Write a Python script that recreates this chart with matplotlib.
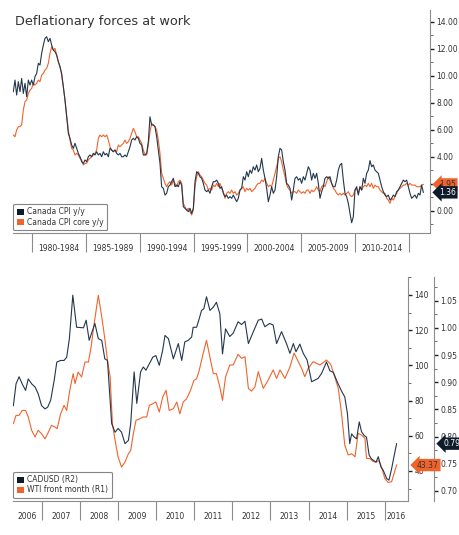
import matplotlib
matplotlib.use('Agg')
import matplotlib.pyplot as plt
import numpy as np
from matplotlib.patches import Patch
from matplotlib.transforms import blended_transform_factory
from matplotlib.ticker import MultipleLocator, FixedLocator, FuncFormatter, NullFormatter

plt.rcParams['font.family'] = ['DejaVu Sans']

# ---- top panel: Canada CPI (readings spaced evenly between first and last date) ----
cpi_start, cpi_end = 1978.27, 2016.33
cpi_yy = [
    8.82, 9.68, 8.57, 9.56, 8.82, 9.80, 8.69, 9.44, 8.45, 9.68,
    9.31, 9.68, 9.31, 9.93, 10.17, 10.92, 10.79, 11.66, 12.27, 12.77,
    12.89, 12.52, 12.77, 12.27, 11.90, 11.78, 11.53, 11.04, 10.67, 10.17,
    9.19, 8.20, 6.96, 5.73, 5.36, 4.87, 4.62, 4.99, 4.62, 4.25,
    4.00, 3.63, 3.51, 3.76, 3.63, 4.00, 4.13, 4.00, 4.25, 4.13,
    4.37, 4.13, 4.25, 4.00, 4.37, 4.13, 4.25, 4.00, 4.62, 4.50,
    4.37,
    4.50, 4.25, 4.13, 4.25, 4.00, 4.00, 4.13, 4.00, 4.37, 4.74,
    5.24, 5.36, 5.24, 5.48, 5.36, 4.99, 4.87, 4.13, 4.13, 4.25,
    5.11, 6.96, 6.35, 6.35, 6.23, 5.48, 4.50, 3.51, 1.78, 1.66,
    1.16, 1.29, 1.78, 1.90, 2.15, 2.40, 1.78, 1.90, 1.78, 2.15,
    1.90, 0.30, 0.18, 0.05, -0.07, 0.18, -0.20, 0.18, 2.15, 2.89,
    2.77, 2.52, 2.40, 2.03, 1.53, 1.41, 1.53, 1.29, 1.78, 2.15,
    2.15, 2.27, 2.03, 1.66, 1.78, 1.29, 1.04, 1.16, 0.92, 1.04,
    0.92, 1.16, 0.92, 0.67, 0.92, 1.53, 1.66, 2.52, 2.27, 2.89,
    2.52, 3.01, 2.77, 3.26, 3.01, 3.39, 2.89, 3.14, 3.88, 3.01,
    2.40, 1.66, 0.67, 1.16, 1.78, 1.29, 1.53, 2.52, 4.00, 4.62,
    4.50, 3.63, 3.01, 2.03, 1.90, 1.66, 0.79, 1.53, 2.40, 2.52,
    2.27, 2.40, 2.03, 2.52, 2.27, 2.77, 3.26, 3.01, 2.27, 2.77,
    2.40, 2.77, 2.03, 0.92, 1.41, 1.78, 2.40, 2.52, 2.40, 2.52,
    2.03, 1.78, 1.78, 2.27, 3.01, 3.39, 3.51, 2.27, 1.29, 1.04,
    0.55, -0.20, -0.89, -0.44, 1.53, 1.78, 1.16, 1.78, 1.53, 2.40,
    2.03, 2.77, 3.01, 3.71, 3.26, 3.39, 3.01, 2.89, 2.77, 2.27,
    1.78, 1.41, 1.16, 1.04, 1.16, 0.79, 0.92, 1.16, 1.04, 1.41,
    1.53, 1.78, 2.03, 2.27, 2.15, 2.27, 1.78, 1.29, 0.92, 1.04,
    1.16, 0.92, 1.29, 1.16, 1.90, 1.36,
]
cpi_core = [
    5.61, 5.48, 5.98, 6.23, 6.23, 6.35, 7.46, 8.08, 8.20, 8.69,
    8.94, 9.06, 9.44, 9.31, 9.44, 9.68, 9.56, 10.05, 10.17, 10.42,
    10.55, 10.92, 11.66, 12.15, 11.90, 12.03, 11.53, 11.04, 10.67, 10.05,
    9.19, 8.20, 7.09, 5.98, 5.24, 4.62, 4.50, 4.13, 4.25, 4.13,
    3.88, 3.76, 3.39, 3.51, 3.51, 3.76, 3.88, 4.00, 4.13, 4.25,
    4.50, 5.36, 5.61, 5.48, 5.61, 5.48, 5.61, 5.24, 4.74, 4.50,
    4.37,
    4.50, 4.37, 4.87, 4.74, 4.87, 4.99, 5.24, 4.99, 5.11, 5.36,
    5.73, 6.10, 5.85, 5.48, 5.48, 5.24, 4.99, 4.50, 4.13, 4.13,
    4.87, 5.85, 6.47, 6.35, 6.23, 5.98, 5.24, 4.25, 2.77, 2.40,
    2.03, 1.78, 2.03, 2.15, 1.90, 2.27, 2.03, 1.78, 2.15, 2.27,
    2.03, 0.55, 0.30, 0.05, 0.18, -0.07, -0.32, 0.05, 1.78, 2.52,
    2.89, 2.64, 2.52, 2.27, 2.03, 1.90, 1.53, 1.66, 1.53, 1.90,
    1.78, 2.03, 1.78, 2.03, 1.66, 1.41, 0.92, 1.29, 1.41, 1.29,
    1.53, 1.29, 1.41, 1.16, 1.29, 1.53, 1.66, 1.78, 1.41, 1.66,
    1.53, 1.66, 1.41, 1.53, 1.66, 1.90, 2.03, 2.03, 2.27, 2.15,
    2.40, 2.03, 1.78, 1.90, 1.78, 2.27, 2.77, 3.26, 3.88, 4.00,
    3.63, 3.01, 2.52, 1.90, 1.66, 1.53, 1.29, 1.41, 1.41, 1.29,
    1.53, 1.41, 1.29, 1.41, 1.29, 1.53, 1.53, 1.29, 1.53, 1.41,
    1.53, 1.78, 1.53, 1.41, 1.78, 1.90, 1.78, 2.15, 2.52, 2.27,
    2.03, 1.66, 1.53, 1.29, 1.16, 1.29, 1.16, 1.29, 1.16, 1.29,
    1.41, 1.16, 1.04, 1.16, 1.53, 1.66, 1.29, 1.78, 1.53, 1.78,
    1.90, 1.78, 2.03, 1.78, 2.03, 1.66, 1.90, 1.78, 1.78, 1.53,
    1.41, 1.29, 1.29, 0.92, 0.79, 0.55, 0.92, 0.79, 1.04, 1.29,
    1.53, 1.66, 1.78, 1.90, 1.90, 2.03, 1.90, 2.03, 1.90, 1.90,
    1.90, 1.78, 1.78, 1.78, 1.90, 1.95,
]
cpi_names = ['Canada CPI y/y', 'Canada CPI core y/y']
period_edges = [1980, 1985, 1990, 1995, 2000, 2005, 2010, 2015]
period_labels = ['1980-1984', '1985-1989', '1990-1994', '1995-1999',
                 '2000-2004', '2005-2009', '2010-2014']

# ---- bottom panel: CADUSD vs WTI ----
cad_dates = [
    2006.25, 2006.32, 2006.40, 2006.48, 2006.57, 2006.64, 2006.73, 2006.82, 2006.90, 2006.99,
    2007.08, 2007.15, 2007.23, 2007.32, 2007.39, 2007.49, 2007.58, 2007.65, 2007.72, 2007.81,
    2007.91, 2008.09, 2008.16, 2008.24, 2008.39, 2008.48, 2008.57, 2008.65, 2008.72, 2008.83,
    2008.92, 2009.00, 2009.09, 2009.18, 2009.27, 2009.33, 2009.42, 2009.49, 2009.59, 2009.66,
    2009.73, 2009.82, 2009.91, 2009.99, 2010.08, 2010.17, 2010.23, 2010.32, 2010.45, 2010.58,
    2010.67, 2010.75, 2010.84, 2010.93, 2010.97, 2011.06, 2011.13, 2011.19, 2011.25, 2011.32,
    2011.41, 2011.50, 2011.58, 2011.67, 2011.74, 2011.82, 2011.93, 2012.02, 2012.15, 2012.24,
    2012.33, 2012.42, 2012.55, 2012.68, 2012.77, 2012.85, 2012.98, 2013.07, 2013.16, 2013.29,
    2013.42, 2013.51, 2013.60, 2013.67, 2013.77, 2013.86, 2013.96, 2014.08, 2014.17, 2014.25,
    2014.34, 2014.47, 2014.56, 2014.65, 2014.75, 2014.87, 2014.95, 2015.02, 2015.08, 2015.13,
    2015.20, 2015.26, 2015.33, 2015.39, 2015.46, 2015.52, 2015.59, 2015.65, 2015.71, 2015.77,
    2015.83, 2015.90, 2015.96, 2016.05, 2016.11, 2016.18, 2016.25, 2016.31,
]
cad_values = [
    0.857, 0.897, 0.910, 0.897, 0.885, 0.906, 0.897, 0.891, 0.879, 0.857,
    0.851, 0.854, 0.867, 0.903, 0.937, 0.940, 0.940, 0.946, 0.980, 1.060,
    1.001, 1.000, 1.014, 0.977, 1.008, 0.980, 0.977, 0.943, 0.940, 0.824,
    0.808, 0.815, 0.808, 0.787, 0.793, 0.824, 0.919, 0.861, 0.919, 0.928,
    0.922, 0.934, 0.946, 0.949, 0.931, 0.959, 0.986, 0.980, 0.943, 0.971,
    0.940, 0.974, 0.977, 0.983, 1.001, 1.001, 1.017, 1.032, 1.035, 1.057,
    1.032, 1.038, 1.047, 1.026, 0.952, 0.998, 0.984, 0.990, 1.011, 1.006,
    1.012, 0.971, 0.993, 1.014, 1.016, 1.002, 1.008, 1.005, 0.971, 0.993,
    0.971, 0.953, 0.971, 0.956, 0.970, 0.953, 0.941, 0.901, 0.904, 0.907,
    0.916, 0.937, 0.921, 0.918, 0.901, 0.883, 0.873, 0.842, 0.787, 0.805,
    0.799, 0.796, 0.827, 0.809, 0.802, 0.799, 0.766, 0.759, 0.756, 0.753,
    0.763, 0.744, 0.738, 0.723, 0.720, 0.741, 0.766, 0.787,
]
wti_dates = [
    2006.25, 2006.32, 2006.40, 2006.48, 2006.57, 2006.64, 2006.73, 2006.82, 2006.90, 2006.99,
    2007.08, 2007.17, 2007.25, 2007.34, 2007.40, 2007.49, 2007.58, 2007.65, 2007.73, 2007.82,
    2007.87, 2007.95, 2008.04, 2008.13, 2008.22, 2008.29, 2008.37, 2008.48, 2008.57, 2008.65,
    2008.72, 2008.79, 2008.85, 2008.92, 2009.00, 2009.09, 2009.18, 2009.27, 2009.33, 2009.40,
    2009.47, 2009.57, 2009.66, 2009.75, 2009.82, 2009.91, 2009.99, 2010.08, 2010.17, 2010.26,
    2010.34, 2010.45, 2010.54, 2010.62, 2010.71, 2010.80, 2010.90, 2010.99, 2011.06, 2011.13,
    2011.23, 2011.32, 2011.41, 2011.50, 2011.58, 2011.67, 2011.74, 2011.82, 2011.93, 2012.02,
    2012.15, 2012.24, 2012.33, 2012.42, 2012.50, 2012.59, 2012.68, 2012.81, 2012.94, 2013.07,
    2013.16, 2013.25, 2013.38, 2013.51, 2013.62, 2013.73, 2013.82, 2013.90, 2013.99, 2014.12,
    2014.30, 2014.47, 2014.58, 2014.66, 2014.78, 2014.87, 2014.95, 2015.04, 2015.13, 2015.22,
    2015.30, 2015.39, 2015.48, 2015.52, 2015.61, 2015.70, 2015.78, 2015.85, 2015.92, 2016.00,
    2016.09, 2016.18, 2016.31,
]
wti_values = [
    66.9, 71.6, 71.6, 74.4, 74.4, 70.7, 63.1, 59.3, 63.1, 61.2,
    58.3, 62.1, 65.9, 65.0, 64.0, 72.5, 77.3, 74.4, 85.8, 95.3,
    89.6, 96.2, 93.4, 101.9, 101.9, 110.4, 123.7, 139.8, 127.5, 115.2,
    102.9, 93.4, 66.9, 57.4, 47.9, 42.2, 45.1, 49.8, 51.7, 61.2,
    68.8, 69.7, 70.7, 70.7, 77.3, 78.2, 79.2, 73.5, 82.0, 85.8,
    74.4, 75.4, 79.2, 72.5, 79.2, 81.1, 85.8, 91.5, 92.4, 97.2,
    106.6, 114.2, 104.7, 95.3, 95.3, 87.7, 80.1, 93.4, 100.2, 100.2,
    106.3, 104.0, 104.9, 86.9, 85.4, 87.7, 96.4, 86.9, 91.7, 97.4,
    92.6, 97.4, 92.6, 99.1, 107.0, 102.1, 98.1, 93.6, 98.3, 102.1,
    100.2, 103.0, 100.6, 95.3, 86.9, 71.8, 54.7, 49.1, 49.8, 48.1,
    61.4, 60.4, 58.5, 47.2, 47.0, 45.3, 45.1, 46.0, 41.9, 35.8,
    33.5, 33.9, 43.37,
]
fx_names = ['CADUSD (R2)', 'WTI front month (R1)']
years = list(range(2006, 2017))

dark = '#22374e'
dark_sq = '#0d1b2a'
orange = '#f0642c'
spine_c = '#8c8c8c'
text_c = '#333333'
small = 5.5


def tag(ax, xpos, y, text, fc, tc, ytrans=None):
    # left-pointing value tag sitting on a right-hand axis
    trans = blended_transform_factory(ax.transAxes, (ytrans or ax).transData)
    ax.annotate(text, xy=(xpos, y), xycoords=trans,
                xytext=(6.5, 0), textcoords='offset points', ha='left', va='center',
                fontsize=small, color=tc, annotation_clip=False, zorder=6,
                bbox=dict(boxstyle='larrow,pad=0.22', fc=fc, ec='none'))


def style_xaxis(ax, edges, labels, mids):
    ax.xaxis.set_major_locator(FixedLocator(edges))
    ax.xaxis.set_major_formatter(NullFormatter())
    ax.set_xticks(mids, minor=True)
    ax.set_xticklabels(labels, minor=True)
    ax.tick_params(axis='x', which='major', length=14, width=0.8, color=spine_c, direction='out')
    ax.tick_params(axis='x', which='minor', length=0, pad=8, labelsize=small, labelcolor=text_c)


fig = plt.figure(figsize=(4.6, 5.35), dpi=100)

# ---------------- top ----------------
ax1 = fig.add_axes([13 / 460, 1 - 233 / 535, 417 / 460, 223 / 535])
t_yy = np.linspace(cpi_start, cpi_end, len(cpi_yy))
t_core = np.linspace(cpi_start, cpi_end, len(cpi_core))
ax1.plot(t_core, cpi_core, color=orange, lw=0.8)
ax1.plot(t_yy, cpi_yy, color=dark, lw=0.8)
ax1.set_xlim(1978.24, 2016.95)
ax1.set_ylim(-1.65, 14.87)

style_xaxis(ax1, period_edges, period_labels, [e + 2.5 for e in period_edges[:-1]])

ax1.yaxis.tick_right()
ax1.yaxis.set_major_locator(MultipleLocator(2))
ax1.yaxis.set_minor_locator(MultipleLocator(1))
ax1.yaxis.set_major_formatter(FuncFormatter(lambda v, p: f'{v:.2f}'))
ax1.tick_params(axis='y', which='major', length=3, width=1.0, pad=1.5,
                labelsize=small, labelcolor=text_c, color='#222222')
ax1.tick_params(axis='y', which='minor', length=2, width=0.6, color='#555555')

for s in ['left', 'top']:
    ax1.spines[s].set_visible(False)
for s in ['right', 'bottom']:
    ax1.spines[s].set_color(spine_c)
    ax1.spines[s].set_linewidth(0.8)

leg = ax1.legend([Patch(facecolor=dark_sq), Patch(facecolor=orange)], cpi_names,
                 loc='lower left', bbox_to_anchor=(0, 0.012), borderaxespad=0,
                 fontsize=small, handlelength=0.9, handleheight=0.9, handletextpad=0.4,
                 borderpad=0.5, labelspacing=0.15, fancybox=True)
leg.get_frame().set_edgecolor('#666666')
leg.get_frame().set_linewidth(0.8)
for txt in leg.get_texts():
    txt.set_color(text_c)

tag(ax1, 1.0, cpi_core[-1], f'{cpi_core[-1]:.2f}', orange, text_c)
tag(ax1, 1.0, cpi_yy[-1], f'{cpi_yy[-1]:.2f}', dark_sq, 'white')

fig.text(15 / 460, 1 - 25 / 535, 'Deflationary forces at work', fontsize=9.3,
         color=text_c, va='baseline', ha='left')

# ---------------- bottom ----------------
ax2 = fig.add_axes([13 / 460, 1 - 501 / 535, 395 / 460, 224 / 535])
ax2.plot(wti_dates, wti_values, color=orange, lw=0.8)
ax2.set_xlim(2006.24, 2016.61)
ax2.set_ylim(22.95, 150.2)

ax3 = ax2.twinx()
ax3.plot(cad_dates, cad_values, color=dark, lw=0.8)
ax3.set_ylim(0.6816, 1.0934)
ax3.spines['right'].set_position(('axes', 1 + 26 / 395))

ax2.yaxis.tick_right()
lo, hi = ax2.get_xlim()
year_mids = [(max(y, lo) + min(y + 1, hi)) / 2 for y in years]
style_xaxis(ax2, years[1:], [str(y) for y in years], year_mids)

ax2.yaxis.set_major_locator(MultipleLocator(20))
ax2.yaxis.set_minor_locator(MultipleLocator(10))
ax2.yaxis.set_major_formatter(FuncFormatter(lambda v, p: f'{v:.0f}'))
ax3.yaxis.set_major_locator(MultipleLocator(0.05))
ax3.yaxis.set_minor_locator(MultipleLocator(0.025))
ax3.yaxis.set_major_formatter(FuncFormatter(lambda v, p: f'{v:.2f}'))
for a in (ax2, ax3):
    a.tick_params(axis='y', which='major', length=3, width=1.0, pad=1.5,
                  labelsize=small, labelcolor=text_c, color='#222222')
    a.tick_params(axis='y', which='minor', length=2, width=0.6, color='#555555')
    for s in ['left', 'top']:
        a.spines[s].set_visible(False)
    a.spines['right'].set_color(spine_c)
    a.spines['right'].set_linewidth(0.8)
ax2.spines['bottom'].set_color(spine_c)
ax2.spines['bottom'].set_linewidth(0.8)
ax3.spines['bottom'].set_visible(False)

leg2 = ax3.legend([Patch(facecolor=dark_sq), Patch(facecolor=orange)], fx_names,
                  loc='lower left', bbox_to_anchor=(0, 0.012), borderaxespad=0,
                  fontsize=small, handlelength=0.9, handleheight=0.9, handletextpad=0.4,
                  borderpad=0.5, labelspacing=0.15, fancybox=True)
leg2.get_frame().set_edgecolor('#666666')
leg2.get_frame().set_linewidth(0.8)
for txt in leg2.get_texts():
    txt.set_color(text_c)

# WTI tag drawn on the top twin so the second spine does not cover it
tag(ax3, 1.0, wti_values[-1], f'{wti_values[-1]:.2f}', orange, text_c, ytrans=ax2)
tag(ax3, 1 + 26 / 395, cad_values[-1], f'{cad_values[-1]:.2f}', dark_sq, 'white')

fig.savefig('out.png', dpi=100)
